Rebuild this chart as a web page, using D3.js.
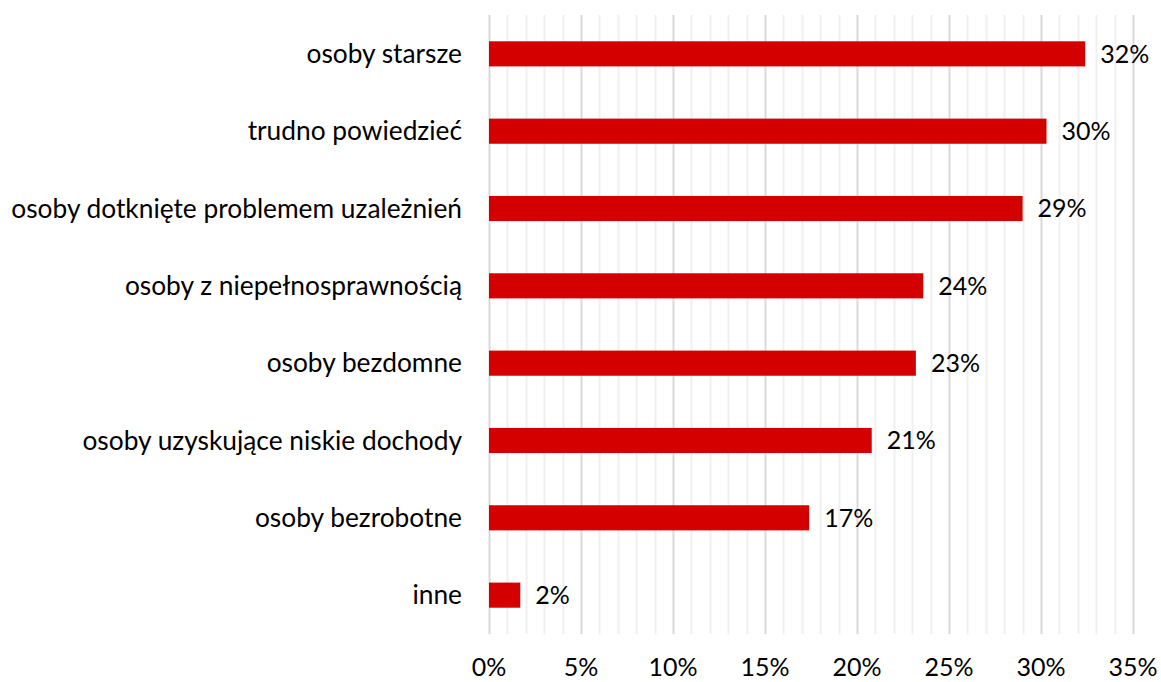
<!DOCTYPE html>
<html>
<head>
<meta charset="utf-8">
<script src="https://cdn.jsdelivr.net/npm/d3@7"></script>
<style>
  body { margin: 0; background: #fff; }
  text { font-family: "Lato", sans-serif; fill: #000; }
</style>
</head>
<body>
<div id="chart"></div>
<script>
// categories top to bottom
const categories = [
  'osoby starsze',
  'trudno powiedzieć',
  'osoby dotknięte problemem uzależnień',
  'osoby z niepełnosprawnością',
  'osoby bezdomne',
  'osoby uzyskujące niskie dochody',
  'osoby bezrobotne',
  'inne'
];
const values = [32.4, 30.3, 29.0, 23.6, 23.2, 20.8, 17.4, 1.7];
const majorTicks = [0, 5, 10, 15, 20, 25, 30, 35];
const minorTicks = d3.range(0, 36, 1);

const width = 1161, height = 682;
const margin = { top: 15, right: 28, bottom: 48, left: 489 };

let svg = d3.select('#chart')
  .append('svg')
  .attr('width', width)
  .attr('height', height)
  .append('g')
  .attr('transform', `translate(${margin.left}, ${margin.top})`);

const w = width - margin.left - margin.right;
const h = height - margin.top - margin.bottom;

let x = d3.scaleLinear().domain([0, 35]).range([0, w]);
let y = d3.scaleBand().domain(categories).range([0, h]).paddingInner(0.675).paddingOuter(0.34);

// gridlines
svg.append('g').selectAll('line').data(minorTicks.filter(t => t % 5 !== 0))
  .enter().append('line')
  .attr('x1', d => Math.round(x(d)) + 0.5).attr('x2', d => Math.round(x(d)) + 0.5)
  .attr('y1', 0).attr('y2', h)
  .attr('stroke', '#f0f0f0').attr('stroke-width', 2);

svg.append('g').selectAll('line').data(majorTicks)
  .enter().append('line')
  .attr('x1', d => Math.round(x(d)) + 0.5).attr('x2', d => Math.round(x(d)) + 0.5)
  .attr('y1', 0).attr('y2', h)
  .attr('stroke', '#d9d9d9').attr('stroke-width', 2);

// x axis labels
svg.append('g').selectAll('text').data(majorTicks)
  .enter().append('text')
  .attr('x', d => x(d))
  .attr('y', h + 42)
  .style('text-anchor', 'middle')
  .style('font-size', '25px')
  .text(d => d + '%');

// category labels
svg.append('g').selectAll('text').data(categories)
  .enter().append('text')
  .attr('x', -27)
  .attr('y', d => y(d) + y.bandwidth() / 2)
  .attr('dy', '0.35em')
  .style('text-anchor', 'end')
  .style('font-size', '26.3px')
  .text(d => d);

// bars
svg.append('g').selectAll('rect').data(values)
  .enter().append('rect')
  .attr('x', x(0))
  .attr('y', (d, i) => y(categories[i]))
  .attr('width', d => x(d))
  .attr('height', y.bandwidth())
  .attr('fill', '#d40000');

// value labels
svg.append('g').selectAll('text').data(values)
  .enter().append('text')
  .attr('x', d => x(d) + 15)
  .attr('y', (d, i) => y(categories[i]) + y.bandwidth() / 2)
  .attr('dy', '0.35em')
  .style('font-size', '25px')
  .text(d => Math.round(d) + '%');
</script>
</body>
</html>
